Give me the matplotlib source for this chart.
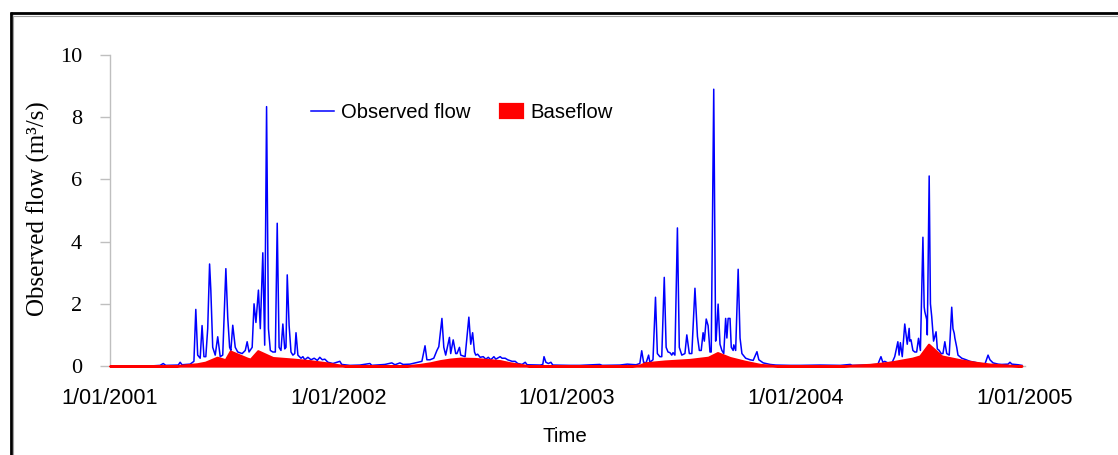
import numpy as np
import matplotlib
matplotlib.use("Agg")
import matplotlib.pyplot as plt
from matplotlib.lines import Line2D

# Daily streamflow record, vertices of the hydrograph (days since 1 Jan 2001, m3/s)
obs_day = [
    0, 64, 80, 85, 89, 109, 112, 115, 128, 134, 137, 140, 144, 147, 150, 153, 156,
    159, 161, 164, 168, 172, 176, 180, 185, 188, 191, 193, 196, 200, 204, 211, 216,
    219, 222, 227, 230, 233, 237, 240, 244, 247, 250, 253, 256, 260, 264, 267, 270,
    273, 276, 279, 281, 283, 286, 289, 292, 295, 297, 300, 305, 308, 311, 316, 321,
    326, 331, 335, 339, 343, 348, 356, 367, 370, 383,
    399, 415, 418, 439, 450, 455, 463, 468, 479, 492, 498, 503, 506, 511, 517, 522,
    525, 530, 533, 536, 542, 544, 548, 552, 554, 558, 560, 567, 573, 576, 579, 582,
    584, 587, 591, 596, 600, 604, 608, 613, 616, 623, 626, 631, 635, 642, 647, 651,
    658, 663, 666, 687, 691, 693, 696, 700, 704, 707, 734,
    750, 782, 786, 814, 826, 834, 840, 846, 849, 852, 856, 860, 862, 867, 871, 874,
    878, 881, 885, 888, 891, 894, 897, 899, 902, 906, 909, 913, 918, 921, 925, 929,
    934, 938, 941, 944, 947, 949, 952, 955, 958, 960, 964, 967, 968, 971, 974, 977,
    980, 983, 985, 987, 990, 992, 995, 996, 999, 1003, 1006, 1009, 1015, 1022, 1027,
    1033, 1036, 1043, 1054, 1063, 1086,
    1102, 1134, 1166, 1182, 1185, 1206, 1226, 1231, 1234, 1237, 1242, 1249, 1253,
    1258, 1260, 1262, 1265, 1269, 1273, 1276, 1277, 1279, 1282, 1285, 1288, 1291,
    1294, 1298, 1300, 1301, 1304, 1305, 1308, 1310, 1312, 1315, 1319, 1321, 1324,
    1327, 1330, 1333, 1336, 1340, 1344, 1346, 1348, 1349, 1352, 1354, 1360, 1367,
    1373, 1381, 1389, 1397, 1402, 1405, 1410, 1418, 1424, 1434, 1437, 1440, 1450, 1456,
]
obs_flow = [
    0.0, 0.0, 0.02, 0.08, 0.02, 0.03, 0.12, 0.04, 0.06, 0.15, 1.82, 0.35, 0.25, 1.30,
    0.30, 0.30, 1.20, 3.28, 2.44, 0.60, 0.35, 0.94, 0.30, 0.35, 3.13, 1.56, 0.60, 0.50,
    1.31, 0.60, 0.45, 0.40, 0.50, 0.78, 0.45, 0.60, 2.00, 1.40, 2.44, 1.20, 3.64, 0.67,
    8.34, 1.20, 0.50, 0.45, 0.45, 4.59, 0.60, 0.50, 1.35, 0.55, 0.60, 2.93, 1.30, 0.45,
    0.35, 0.40, 1.07, 0.35, 0.25, 0.30, 0.20, 0.28, 0.20, 0.25, 0.18, 0.28, 0.20, 0.22,
    0.12, 0.08, 0.15, 0.05, 0.02,
    0.03, 0.08, 0.02, 0.05, 0.10, 0.04, 0.10, 0.05, 0.06, 0.12, 0.15, 0.65, 0.20, 0.20,
    0.25, 0.50, 0.62, 1.53, 0.60, 0.35, 0.92, 0.40, 0.84, 0.40, 0.40, 0.60, 0.35, 0.30,
    1.57, 0.70, 1.07, 0.45, 0.35, 0.38, 0.28, 0.30, 0.22, 0.28, 0.20, 0.30, 0.22, 0.30,
    0.25, 0.25, 0.20, 0.15, 0.15, 0.08, 0.05, 0.12, 0.04, 0.03, 0.05, 0.30, 0.12, 0.08,
    0.12, 0.03, 0.02,
    0.02, 0.05, 0.02, 0.03, 0.06, 0.05, 0.04, 0.08, 0.49, 0.12, 0.10, 0.35, 0.12, 0.20,
    2.21, 0.40, 0.30, 0.30, 2.85, 0.60, 0.45, 0.43, 0.35, 0.43, 0.35, 4.44, 0.60, 0.35,
    0.40, 1.00, 0.40, 0.40, 2.50, 0.95, 0.50, 0.50, 1.07, 0.80, 1.51, 1.30, 0.45, 0.45,
    8.90, 0.80, 0.90, 1.99, 0.70, 0.50, 0.40, 1.53, 0.90, 1.53, 1.53, 0.60, 0.50, 0.68,
    0.50, 3.11, 0.90, 0.40, 0.25, 0.20, 0.18, 0.46, 0.20, 0.10, 0.05, 0.03, 0.02,
    0.02, 0.03, 0.02, 0.05, 0.02, 0.03, 0.05, 0.30, 0.12, 0.15, 0.10, 0.12, 0.30, 0.78,
    0.35, 0.75, 0.30, 1.35, 0.70, 1.21, 0.80, 0.84, 0.50, 0.45, 0.45, 0.89, 0.50, 4.14,
    1.90, 1.75, 1.50, 1.00, 6.11, 2.00, 1.60, 0.80, 1.10, 0.55, 0.50, 0.40, 0.40, 0.78,
    0.40, 0.35, 1.89, 1.20, 1.05, 0.90, 0.60, 0.35, 0.25, 0.20, 0.15, 0.12, 0.08, 0.06,
    0.35, 0.20, 0.10, 0.06, 0.05, 0.06, 0.12, 0.06, 0.04, 0.02,
]

# Separated baseflow component (days since 1 Jan 2001, m3/s)
base_day = [
    0, 104, 112, 139, 152, 171, 184, 192, 219, 224, 236, 260, 292, 319, 346, 367, 378,
    471, 495, 511, 527, 543, 559, 583, 607, 623, 639, 655, 671,
    830, 846, 854, 886, 926, 955, 970, 990, 1014, 1038, 1070,
    1166, 1182, 1213, 1245, 1281, 1293, 1307, 1328, 1357, 1381, 1405, 1456,
]
base_flow = [
    0.0, 0.0, 0.02, 0.07, 0.12, 0.28, 0.20, 0.48, 0.25, 0.22, 0.49, 0.27, 0.22, 0.17,
    0.10, 0.03, 0.0,
    0.0, 0.05, 0.10, 0.17, 0.22, 0.25, 0.24, 0.20, 0.17, 0.10, 0.05, 0.0,
    0.0, 0.03, 0.10, 0.16, 0.21, 0.28, 0.43, 0.27, 0.15, 0.05, 0.0,
    0.0, 0.02, 0.05, 0.12, 0.25, 0.32, 0.70, 0.32, 0.20, 0.12, 0.06, 0.0,
]

start_date = np.datetime64("2001-01-01")
tick_dates = ["2001-01-01", "2002-01-01", "2003-01-01", "2004-01-01", "2005-01-01"]
tick_labels = ["1/01/2001", "1/01/2002", "1/01/2003", "1/01/2004", "1/01/2005"]
y_ticks = [0, 2, 4, 6, 8, 10]

obs_t = start_date + np.array(obs_day).astype("timedelta64[D]")
base_t = start_date + np.array(base_day).astype("timedelta64[D]")

W, H = 1118, 455
fig = plt.figure(figsize=(W / 100, H / 100), dpi=100)
ax = fig.add_axes([110 / W, 1 - 366 / H, (1025 - 110) / W, (366 - 55) / H])

sans = ["Liberation Sans", "DejaVu Sans"]
serif = ["Liberation Serif", "DejaVu Serif"]

ax.plot(obs_t, obs_flow, color="#0000FF", lw=1.1, zorder=2, label="Observed flow")
ax.fill_between(base_t, 0, base_flow, facecolor="#FF0000", edgecolor="#FF0000",
                lw=1.6, zorder=3, clip_on=False, label="Baseflow")

ax.set_xlim(np.datetime64("2001-01-01"), np.datetime64("2005-01-01"))
ax.set_ylim(0, 10)

grey = "#BFBFBF"
for side in ("top", "right"):
    ax.spines[side].set_visible(False)
for side in ("left", "bottom"):
    ax.spines[side].set_color(grey)
    ax.spines[side].set_linewidth(1.0)
ax.spines["bottom"].set_zorder(1)

ax.set_xticks([np.datetime64(d) for d in tick_dates])
ax.set_xticklabels(tick_labels, fontfamily=sans, fontsize=15.6)
ax.tick_params(axis="x", length=0, pad=16)

ax.set_yticks(y_ticks)
ax.set_yticklabels([str(v) for v in y_ticks], fontfamily=serif, fontsize=16)
ax.tick_params(axis="y", length=7.2, width=1.0, color=grey, pad=13, direction="out")

fig.text(565 / W, 1 - 436 / H, "Time", ha="center", va="center",
         fontfamily=sans, fontsize=14.8)
fig.text(38 / W, 1 - 209 / H, "Observed flow (m³/s)", ha="center", va="center",
         rotation=90, fontfamily=serif, fontsize=18)

leg = ax.legend(loc="center left", bbox_to_anchor=(311 / W, 1 - 113 / H),
                bbox_transform=fig.transFigure, ncol=2, frameon=False,
                prop={"family": sans, "size": 14.6}, handlelength=1.15,
                handleheight=0.69, handletextpad=0.34, columnspacing=1.45,
                borderpad=0, borderaxespad=0)

# double frame around the figure
def px_line(xs, ys, color, lw):
    fig.add_artist(Line2D([x / W for x in xs], [1 - y / H for y in ys],
                          transform=fig.transFigure, color=color, lw=lw,
                          solid_capstyle="butt"))

px_line([10.7, 10.7], [12, H], "#000000", 2.0)
px_line([10, W], [13, 13], "#000000", 2.0)
px_line([13.3, 13.3], [15, H], "#A0A0A0", 0.8)
px_line([13, W], [15.8, 15.8], "#A0A0A0", 0.8)

fig.savefig("out.png", dpi=100)
